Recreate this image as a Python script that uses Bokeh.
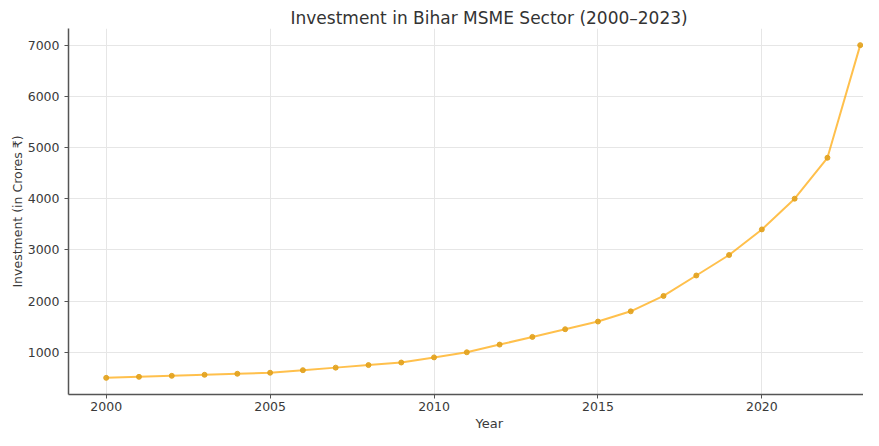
from bokeh.plotting import figure
from bokeh.models import Range1d, FixedTicker, Title
from bokeh.embed import file_html
from bokeh.resources import INLINE

years = [2000, 2001, 2002, 2003, 2004, 2005, 2006, 2007, 2008, 2009, 2010, 2011,
         2012, 2013, 2014, 2015, 2016, 2017, 2018, 2019, 2020, 2021, 2022, 2023]
investment = [500, 520, 540, 560, 580, 600, 650, 700, 750, 800, 900, 1000,
              1150, 1300, 1450, 1600, 1800, 2100, 2500, 2900, 3400, 4000, 4800, 7000]
x_ticks = [2000, 2005, 2010, 2015, 2020]
y_ticks = [1000, 2000, 3000, 4000, 5000, 6000, 7000]
title_text = "Investment in Bihar MSME Sector (2000–2023)"
x_label = "Year"
y_label = "Investment (in Crores ₹)"

FONT = "DejaVu Sans"

p = figure(width=863, height=430, output_backend="svg", toolbar_location=None,
           x_range=Range1d(1998.85, 2023.1), y_range=Range1d(175, 7325),
           min_border_left=68, min_border_right=0, min_border_top=28, min_border_bottom=10)

p.outline_line_color = None
p.background_fill_color = "white"
p.border_fill_color = "white"

p.line(years, investment, line_color="orange", line_alpha=0.7, line_width=2)
p.scatter(years, investment, size=5, fill_color="#E2A21E", line_color="#E2A21E", alpha=0.9)

for ax in (p.xaxis[0], p.yaxis[0]):
    ax.axis_line_color = "#555555"
    ax.axis_line_width = 1.5
    ax.major_tick_line_color = "#555555"
    ax.major_tick_out = 4
    ax.major_tick_in = 0
    ax.minor_tick_line_color = None
    ax.major_label_text_font = FONT
    ax.major_label_text_font_size = "12.5px"
    ax.major_label_text_color = "#3a3a3a"
    ax.axis_label_text_font = FONT
    ax.axis_label_text_font_size = "12.5px"
    ax.axis_label_text_font_style = "normal"
    ax.axis_label_text_color = "#3a3a3a"

p.xaxis.ticker = FixedTicker(ticks=x_ticks)
p.yaxis.ticker = FixedTicker(ticks=y_ticks)
p.xaxis.major_label_standoff = 3
p.yaxis.major_label_standoff = 5
p.yaxis.axis_label = y_label
p.yaxis.axis_label_standoff = 0

p.xgrid.ticker = FixedTicker(ticks=x_ticks)
p.ygrid.ticker = FixedTicker(ticks=y_ticks)
p.grid.grid_line_color = "#e6e6e6"
p.grid.grid_line_width = 1

p.title.text = title_text
p.title.align = "left"
p.title.offset = 222
p.title.text_font = FONT
p.title.text_font_size = "17px"
p.title.text_font_style = "normal"
p.title.text_color = "#333333"
p.title.standoff = 2

xl = Title(text=x_label, align="left", offset=407, text_font=FONT,
           text_font_size="13px", text_font_style="normal", text_color="#3a3a3a",
           standoff=0)
p.add_layout(xl, "below")

open("out.html", "w").write(file_html(p, INLINE))
